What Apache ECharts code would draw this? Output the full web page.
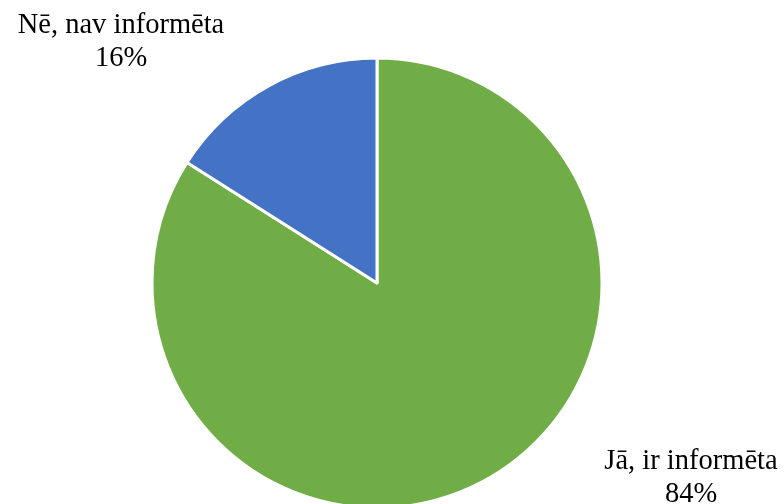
<!DOCTYPE html>
<html><head><meta charset="utf-8">
<script src="https://cdn.jsdelivr.net/npm/echarts@6/dist/echarts.min.js"></script>
<style>html,body{margin:0;padding:0;background:#fff}#c{width:784px;height:504px}</style>
</head><body><div id="c"></div>
<script>
const categories = ["Jā, ir informēta", "Nē, nav informēta"];
const values = [84, 16];
const colors = ["#70AD47", "#4472C4"];

const chart = echarts.init(document.getElementById('c'));
const labelPos = [[691, 478], [121, 42]];
chart.setOption({
  animation: false,
  series: [{
    type: 'pie',
    center: [377, 283],
    radius: [0, 225],
    startAngle: 90,
    clockwise: true,
    data: categories.map((n, i) => ({name: n, value: values[i], itemStyle: {color: colors[i]}})),
    itemStyle: {borderColor: '#fff', borderWidth: 3},
    label: {
      show: true,
      position: 'outside',
      formatter: p => p.name + '\n' + p.value + '%',
      fontFamily: 'Liberation Serif',
      fontSize: 28.5,
      lineHeight: 33,
      color: '#000',
      align: 'center'
    },
    labelLine: {show: false},
    labelLayout: p => ({x: labelPos[p.dataIndex][0], y: labelPos[p.dataIndex][1], align: 'center', verticalAlign: 'middle'})
  }]
});
</script></body></html>
